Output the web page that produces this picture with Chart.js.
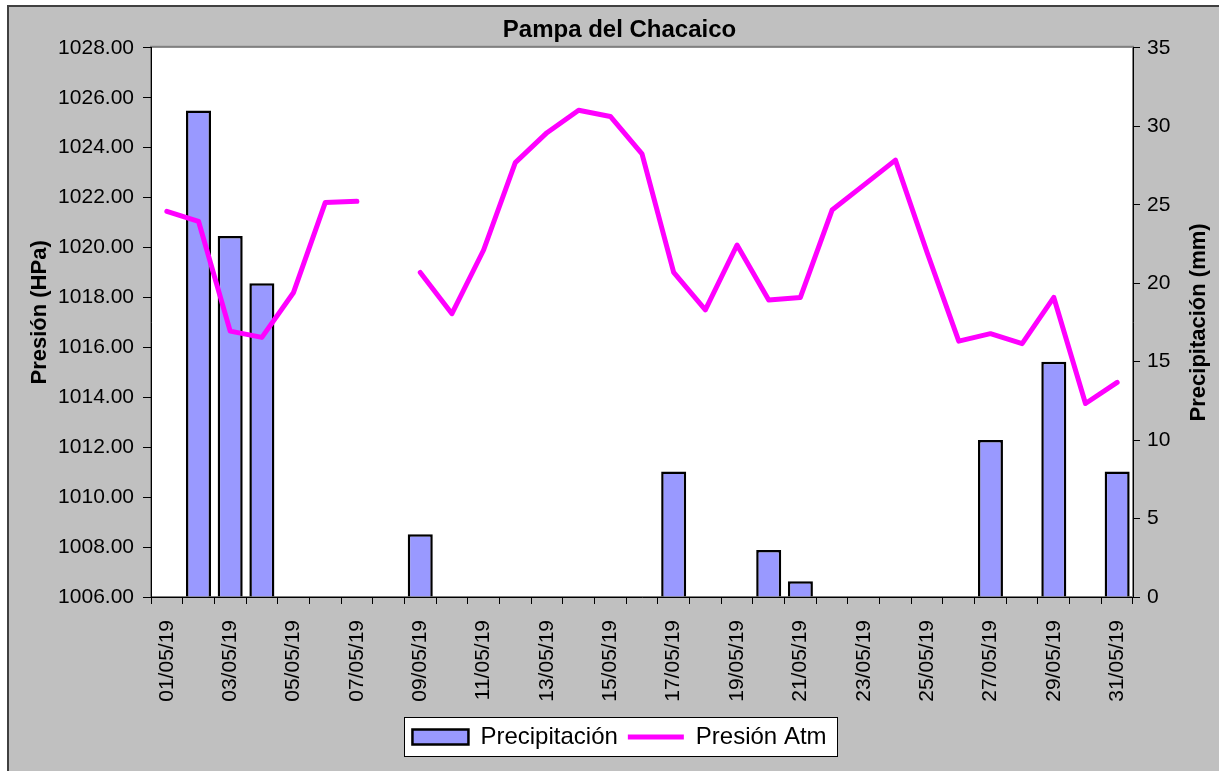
<!DOCTYPE html>
<html>
<head>
<meta charset="utf-8">
<title>Pampa del Chacaico</title>
<script src="https://cdn.jsdelivr.net/npm/chart.js@4.4.1/dist/chart.umd.min.js"></script>
<style>
  html, body { margin: 0; padding: 0; background: #fff; }
  #contenedor { position: relative; width: 1219px; height: 771px; }
</style>
</head>
<body>
<div id="contenedor"><canvas id="grafico"></canvas></div>
<script>
// Datos (mayo 2019)
const fechas = [
  '01/05/19', '02/05/19', '03/05/19', '04/05/19', '05/05/19', '06/05/19', '07/05/19', '08/05/19',
  '09/05/19', '10/05/19', '11/05/19', '12/05/19', '13/05/19', '14/05/19', '15/05/19', '16/05/19',
  '17/05/19', '18/05/19', '19/05/19', '20/05/19', '21/05/19', '22/05/19', '23/05/19', '24/05/19',
  '25/05/19', '26/05/19', '27/05/19', '28/05/19', '29/05/19', '30/05/19', '31/05/19'
];
const precipitacion = [
  0, 31, 23, 20, 0, 0, 0, 0, 4, 0, 0, 0, 0, 0, 0, 0,
  8, 0, 0, 3, 1, 0, 0, 0, 0, 0, 10, 0, 15, 0, 8
];
const presion = [
  1021.45, 1021.05, 1016.65, 1016.4, 1018.2, 1021.8, 1021.85, null,
  1019.0, 1017.35, 1019.9, 1023.4, 1024.6, 1025.5, 1025.25, 1023.75,
  1019.0, 1017.5, 1020.1, 1017.9, 1018.0, 1021.5, 1022.5, 1023.5,
  1019.8, 1016.25, 1016.55, 1016.15, 1018.0, 1013.75, 1014.6
];
// ejes
const presionMin = 1006, presionMax = 1028, presionPaso = 2;
const lluviaMin = 0, lluviaMax = 35, lluviaPaso = 5;

const FUENTE = "'Liberation Sans', Arial, sans-serif";

// fondo gris tipo Excel, area de trazado blanca, caja de leyenda y titulos de ejes
const fondoExcel = {
    id: 'fondoExcel',
    beforeDraw(chart) {
        const { ctx, chartArea: a, width, height } = chart;
        ctx.save();
        ctx.fillStyle = '#fff';
        ctx.fillRect(0, 0, width, height);
        ctx.fillStyle = '#c0c0c0';
        ctx.fillRect(7, 5, width - 7, height - 5);
        ctx.strokeStyle = '#404040';
        ctx.lineWidth = 2;
        ctx.beginPath();
        ctx.moveTo(8, height); ctx.lineTo(8, 6); ctx.lineTo(width, 6);
        ctx.stroke();

        ctx.fillStyle = '#fff';
        ctx.fillRect(a.left, a.top, a.right - a.left, a.bottom - a.top);
        ctx.strokeStyle = '#808080';
        ctx.lineWidth = 2;
        ctx.strokeRect(a.left, a.top - 1, a.right - a.left, a.bottom - a.top + 1);

        const hb = chart.legend && chart.legend.legendHitBoxes;
        if (hb && hb.length) {
            const ult = hb[hb.length - 1];
            const x0 = Math.round(hb[0].left - 8);
            const x1 = Math.round(ult.left + ult.width + 10);
            const yc = Math.round(hb[0].top + hb[0].height / 2);
            ctx.fillStyle = '#fff';
            ctx.fillRect(x0, yc - 20, x1 - x0, 40);
            ctx.strokeStyle = '#000';
            ctx.lineWidth = 1;
            ctx.strokeRect(x0 + 0.5, yc - 19.5, x1 - x0, 39);
        }
        ctx.restore();
    },
    afterDraw(chart) {
        const { ctx, chartArea: a } = chart;
        const yc = (a.top + a.bottom) / 2;
        ctx.save();
        ctx.font = 'bold 22px ' + FUENTE;
        ctx.fillStyle = '#000';
        ctx.textAlign = 'center';
        ctx.textBaseline = 'middle';

        ctx.save();
        ctx.translate(40, yc - 10);
        ctx.rotate(-Math.PI / 2);
        ctx.fillText('Presión (HPa)', 0, 0);
        ctx.restore();

        ctx.save();
        ctx.translate(1199, yc);
        ctx.rotate(-Math.PI / 2);
        ctx.fillText('Precipitación (mm)', 0, 0);
        ctx.restore();

        ctx.restore();
    }
};

const ctx = document.getElementById('grafico');
new Chart(ctx, {
    type: 'bar',
    data: {
        labels: fechas,
        datasets: [
            {
                type: 'bar',
                label: 'Precipitación',
                data: precipitacion,
                yAxisID: 'yLluvia',
                backgroundColor: '#9999ff',
                borderColor: '#000',
                borderWidth: 2.5,
                borderSkipped: 'start',
                inflateAmount: 0,
                barPercentage: 0.79,
                categoryPercentage: 1,
                order: 1
            },
            {
                type: 'line',
                label: 'Presión Atm',
                data: presion,
                yAxisID: 'yPresion',
                borderColor: '#ff00ff',
                backgroundColor: '#ff00ff',
                borderWidth: 5,
                borderCapStyle: 'round',
                borderJoinStyle: 'round',
                pointRadius: 0,
                spanGaps: false,
                tension: 0,
                order: 0
            }
        ]
    },
    options: {
        responsive: true,
        maintainAspectRatio: false,
        animation: false,
        devicePixelRatio: 1,
        layout: { padding: { left: 20, right: 0, top: 0, bottom: 12 } },
        plugins: {
            title: {
                display: true,
                text: 'Pampa del Chacaico',
                color: '#000',
                font: { family: FUENTE, size: 24, weight: 'bold' },
                padding: { top: 16, bottom: 3 }
            },
            legend: {
                position: 'bottom',
                labels: {
                    usePointStyle: true,
                    pointStyleWidth: 56,
                    boxHeight: 15,
                    padding: 10,
                    color: '#000',
                    font: { family: FUENTE, size: 24 },
                    generateLabels: (chart) => Chart.defaults.plugins.legend.labels.generateLabels(chart)
                        .sort((p, q) => p.datasetIndex - q.datasetIndex)
                        .map(l => ({ ...l, pointStyle: l.datasetIndex === 0 ? 'rect' : 'line' }))
                }
            },
            tooltip: { enabled: false }
        },
        scales: {
            x: {
                offset: true,
                grid: { offset: true, drawOnChartArea: false, drawTicks: true, tickLength: 7, color: '#000' },
                border: { color: '#000', width: 1 },
                ticks: {
                    autoSkip: false,
                    maxRotation: 90,
                    minRotation: 90,
                    padding: 16,
                    color: '#000',
                    font: { family: FUENTE, size: 21 },
                    callback: (v, i) => (i % 2 === 0 ? fechas[i] : '')
                },
                afterFit: (s) => { s.height = 118; }
            },
            yPresion: {
                position: 'left',
                min: presionMin,
                max: presionMax,
                grid: { drawOnChartArea: false, tickLength: 8, color: '#000' },
                border: { color: '#000', width: 1 },
                ticks: {
                    stepSize: presionPaso,
                    padding: 9,
                    color: '#000',
                    font: { family: FUENTE, size: 21 },
                    callback: (v) => v.toFixed(2)
                },
                afterFit: (s) => { s.width = 131; }
            },
            yLluvia: {
                position: 'right',
                min: lluviaMin,
                max: lluviaMax,
                grid: { drawOnChartArea: false, tickLength: 7, color: '#000' },
                border: { color: '#000', width: 1 },
                ticks: {
                    stepSize: lluviaPaso,
                    padding: 7,
                    color: '#000',
                    font: { family: FUENTE, size: 21 }
                },
                afterFit: (s) => { s.width = 86; }
            }
        }
    },
    plugins: [fondoExcel]
});
</script>
</body>
</html>
